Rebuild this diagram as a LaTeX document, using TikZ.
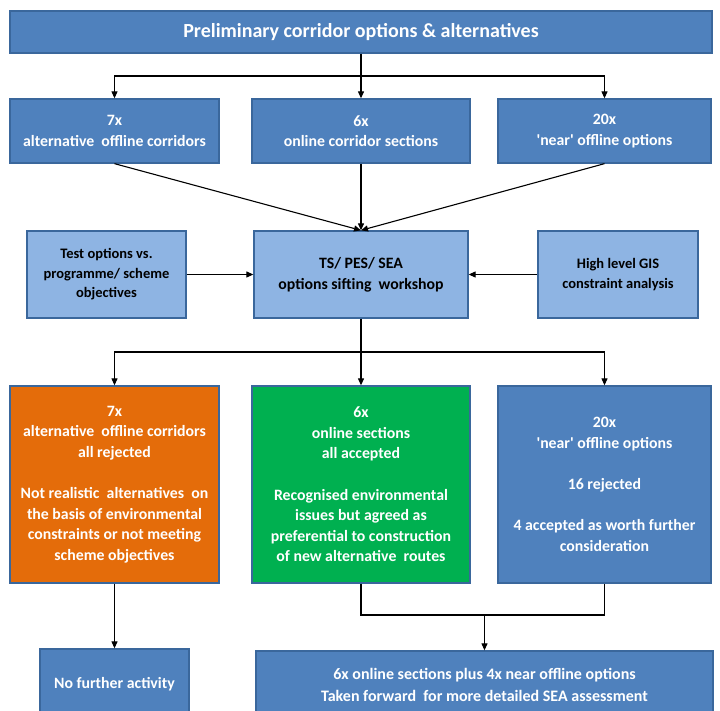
\documentclass[tikz,border=0pt]{standalone}
\usepackage{fontspec}
\setmainfont{Carlito}
\usetikzlibrary{arrows.meta}
\definecolor{midblue}{HTML}{4F81BD}
\definecolor{edgeblue}{HTML}{3A679C}
\definecolor{lightblue}{HTML}{8EB4E3}
\definecolor{orangebox}{HTML}{E46C0A}
\definecolor{greenbox}{HTML}{00B050}
\tikzset{
  box/.style={draw=edgeblue, line width=1.3pt, rectangle, align=center, inner sep=0pt,
    text=white, fill=midblue, font=\bfseries\fontsize{15.8}{20.6}\selectfont},
  lightbox/.style={box, fill=lightblue, text=black},
  arr/.style={line width=1.1pt, -{Triangle[length=7pt,width=6pt]}},
  ln/.style={line width=1.1pt}
}
\newcommand{\sq}{\textquotesingle}
\begin{document}
\begin{tikzpicture}[x=1pt,y=-1pt]
\useasboundingbox (0,0) rectangle (720,711);
% top
\node[box, minimum width=702pt, minimum height=42pt, font=\bfseries\fontsize{20}{24}\selectfont] (top) at (361,32) {Preliminary corridor options \& alternatives};
% row 2
\node[box, minimum width=209pt, minimum height=64pt] (r2a) at (114.5,131) {7x\\alternative\ \ offline corridors};
\node[box, minimum width=218pt, minimum height=64pt] (r2b) at (361,131) {6x\\online corridor sections};
\node[box, minimum width=213pt, minimum height=64pt] (r2c) at (604.5,131) {20x\\\sq near\sq{} offline options};
% row 3
\node[lightbox, minimum width=159pt, minimum height=87pt, font=\bfseries\fontsize{14.5}{19.5}\selectfont] (r3a) at (106.5,274.5) {Test options vs.\\programme/ scheme\\objectives};
\node[lightbox, minimum width=214pt, minimum height=87pt, font=\bfseries\fontsize{15.8}{20.6}\selectfont] (ws) at (361,274.5) {TS/ PES/ SEA\\options sifting\ \ workshop};
\node[lightbox, minimum width=160pt, minimum height=87pt, font=\bfseries\fontsize{14.5}{19.5}\selectfont] (r3c) at (618,274.5) {High level GIS\\constraint analysis};
% row 4
\node[box, fill=orangebox, minimum width=209pt, minimum height=197pt] (r4a) at (114.5,484.5) {7x\\alternative\ \ offline corridors\\all rejected\\[20.6pt]Not realistic\ \ alternatives\ \ on\\the basis of environmental\\constraints or not meeting\\scheme objectives};
\node[box, fill=greenbox, minimum width=218pt, minimum height=197pt] (r4b) at (361,484.5) {6x\\online sections\\all accepted\\[20.6pt]Recognised environmental\\issues but agreed as\\preferential to construction\\of new alternative\ \ routes};
\node[box, minimum width=213pt, minimum height=197pt] (r4c) at (604.5,484.5) {20x\\\sq near\sq{} offline options\\[20.6pt]16 rejected\\[20.6pt]4 accepted as worth further\\consideration};
% bottom
\node[box, minimum width=149pt, minimum height=71pt] (nfa) at (114.5,684.5) {No further activity};
\node[box, minimum width=457pt, minimum height=67pt, font=\bfseries\fontsize{16}{22}\selectfont] (fin) at (484.5,684.5) {6x online sections plus 4x near offline options\\Taken forward\ \ for more detailed SEA assessment};
% connectors top -> row 2
\coordinate (j1) at (361,76);
\draw[arr] (top.south) -- (r2b.north);
\draw[arr] (j1) -| (r2a.north);
\draw[arr] (j1) -| (r2c.north);
% row 2 -> workshop
\draw[arr] (r2a.south) -- (ws.north);
\draw[arr] (r2b.south) -- (ws.north);
\draw[arr] (r2c.south) -- (ws.north);
% side inputs
\draw[arr] (r3a.east) -- (ws.west);
\draw[arr] (r3c.west) -- (ws.east);
% workshop -> row 4
\coordinate (j2) at (361,352);
\draw[arr] (ws.south) -- (r4b.north);
\draw[arr] (j2) -| (r4a.north);
\draw[arr] (j2) -| (r4c.north);
% row 4 -> bottom
\draw[arr] (r4a.south) -- (nfa.north);
\coordinate (m) at (484.5,615);
\draw[ln] (r4b.south) |- (m) -| (r4c.south);
\draw[arr] (m) -- (fin.north);
\end{tikzpicture}
\end{document}
